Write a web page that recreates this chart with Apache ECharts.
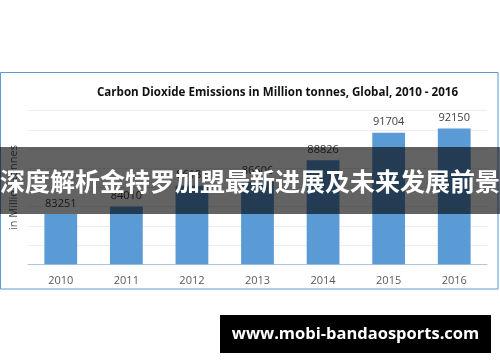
<!DOCTYPE html>
<html><head><meta charset="utf-8">
<script src="https://cdn.jsdelivr.net/npm/echarts@6/dist/echarts.min.js"></script>
<style>html,body{margin:0;padding:0;background:#fff}#c{width:500px;height:362px}</style>
</head><body><div id="c"></div>
<script>
const categories = ['2010','2011','2012','2013','2014','2015','2016'];
const emissions = [83251, 84010, 86183, 86606, 88826, 91704, 92150];
const yMin = 78000, yMax = 94000, yStep = 2000;
const chartTitle = 'Carbon Dioxide Emissions in Million tonnes, Global, 2010 - 2016';
const yName = 'in Million tonnes';
const bannerText = '深度解析金特罗加盟最新进展及未来发展前景';
const siteText = 'www.mobi-bandaosports.com';

const chart = echarts.init(document.getElementById('c'), null, {renderer:'canvas'});
chart.setOption({
  animation: false,
  backgroundColor: '#fff',
  title: {
    text: chartTitle, left: 272.5, textAlign: 'center', top: 82,
    textStyle: {fontFamily: 'Open Sans', fontWeight: 'bold', fontSize: 11.6, color: '#111'}
  },
  grid: {left: 27, right: 13, top: 110.7, bottom: 97.7},
  xAxis: {
    type: 'category', data: categories,
    axisLine: {lineStyle: {color: '#a9c8e8', width: 1}},
    axisTick: {show: false},
    axisLabel: {color: '#595959', fontFamily: 'Open Sans', fontSize: 11, margin: 11}
  },
  yAxis: {
    type: 'value', min: yMin, max: yMax, interval: yStep,
    name: yName, nameLocation: 'middle', nameGap: 9, nameRotate: 90,
    nameTextStyle: {color: '#595959', fontFamily: 'Open Sans', fontSize: 11},
    axisLabel: {show: false}, axisLine: {show: false}, axisTick: {show: false},
    splitLine: {lineStyle: {color: '#ececec'}}
  },
  series: [{
    type: 'bar', data: emissions, barWidth: '50%',
    itemStyle: {color: '#5b9bd5'},
    label: {show: true, position: 'top', distance: 5, color: '#404040', fontFamily: 'Open Sans', fontSize: 11}
  }],
  graphic: {elements: [
    {type: 'rect', z: -10, shape: {x: 0.5, y: 72.5, width: 497.5, height: 216.5},
     style: {fill: 'none', stroke: '#5b9bd5', lineWidth: 1}},
    {type: 'rect', z: 100, shape: {x: 0, y: 147, width: 500, height: 67},
     style: {fill: 'rgba(0,0,0,0.61)'}},
    {type: 'text', z: 101, x: 250, y: 181,
     style: {text: bannerText, fill: '#fff', font: 'bold 25px "Noto Sans CJK SC"', textAlign: 'center', textVerticalAlign: 'middle'}},
    {type: 'rect', z: 100, shape: {x: 220, y: 315, width: 271, height: 38},
     style: {fill: '#000'}},
    {type: 'text', z: 101, x: 355.5, y: 334,
     style: {text: siteText, fill: '#fff', font: 'bold 16.5px "Open Sans"', textAlign: 'center', textVerticalAlign: 'middle'}}
  ]}
});
</script></body></html>
